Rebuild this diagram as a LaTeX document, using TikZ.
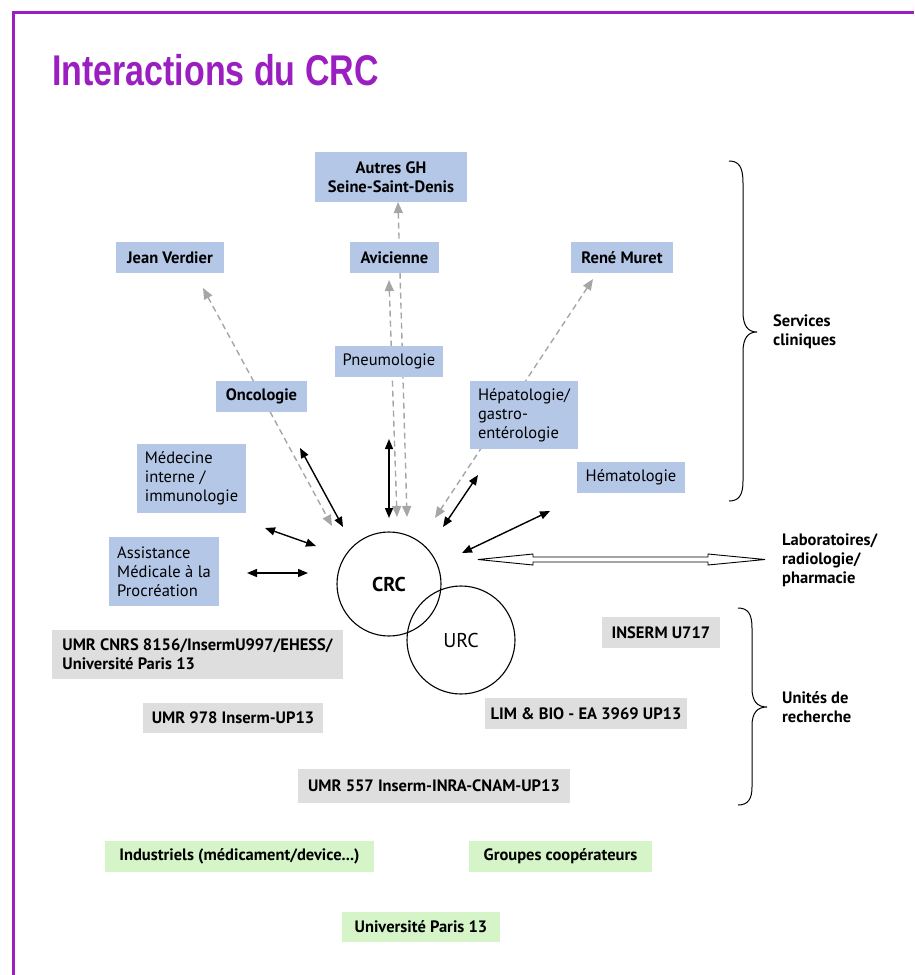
\documentclass[tikz,border=0pt]{standalone}
\usepackage{fontspec}
\setmainfont{PT Sans}
\newfontfamily\titlefont[FakeStretch=0.79]{Liberation Sans}
\usetikzlibrary{arrows.meta}
\definecolor{purp}{HTML}{9B1FC0}
\definecolor{blueF}{HTML}{B4C7E7}
\definecolor{grayF}{HTML}{DEDEDE}
\definecolor{greenF}{HTML}{D5F5C8}
\definecolor{dashG}{HTML}{A6A6A6}
\begin{document}
\begin{tikzpicture}[x=1pt,y=-1pt,
  boxbase/.style={inner sep=0pt, font=\fontsize{16.5}{19}\selectfont},
  bbox/.style={boxbase, fill=blueF},
  gbox/.style={boxbase, fill=grayF, font=\fontsize{16.5}{19}\selectfont\bfseries},
  vbox/.style={boxbase, fill=greenF, font=\fontsize{16.5}{19}\selectfont\bfseries},
  boldtxt/.style={font=\fontsize{16.5}{19}\selectfont\bfseries},
  sidelbl/.style={font=\fontsize{16.5}{19}\selectfont\bfseries, align=left, anchor=west, inner sep=0pt},
  blk/.style={line width=1.4pt, {Triangle[length=10pt,width=8pt]}-{Triangle[length=10pt,width=8pt]}},
  gry/.style={dashG, line width=1.4pt, dash pattern=on 6pt off 4pt, {Triangle[length=11pt,width=9pt]}-{Triangle[length=11pt,width=9pt]}},
  bracestyle/.style={line width=1pt},
  ring/.style={circle, draw, line width=1.1pt, inner sep=0pt}
]
\useasboundingbox (0,0) rectangle (914,975);

% frame
\draw[purp, line width=3pt] (13,975) -- (13,12) -- (914,12);

% title
\node[anchor=base west, inner sep=0pt, text=purp, font=\titlefont\fontsize{43}{48}\selectfont\bfseries] (title) at (52,85) {Interactions du CRC};

% coordinates for the connectors
\coordinate (jvT) at (203,288);
\coordinate (jvB) at (332,526);
\coordinate (avT) at (389,280);
\coordinate (avB) at (397,517);
\coordinate (ghT) at (398,202);
\coordinate (ghB) at (407,517);
\coordinate (rmT) at (593,279);
\coordinate (rmB) at (435,518);

\coordinate (onA) at (300,448);
\coordinate (onB) at (343,527);
\coordinate (pnA) at (389,439);
\coordinate (pnB) at (389,518);
\coordinate (hpA) at (478,475);
\coordinate (hpB) at (443,527);
\coordinate (hmA) at (550,511);
\coordinate (hmB) at (462,553);
\coordinate (miA) at (265,528);
\coordinate (miB) at (316,546);
\coordinate (amA) at (247,573);
\coordinate (amB) at (308,573);

% gray dashed connectors (under the boxes)
\draw[gry] (jvT) -- (jvB);
\draw[gry] (avT) -- (avB);
\draw[gry] (ghT) -- (ghB);
\draw[gry] (rmT) -- (rmB);

% blue boxes
\node[bbox, boldtxt, minimum width=152pt, minimum height=50pt, align=center] (autres) at (391,177) {Autres GH\\Seine-Saint-Denis};
\node[bbox, boldtxt, minimum width=108pt, minimum height=31pt] (jean) at (170,257.5) {Jean Verdier};
\node[bbox, boldtxt, minimum width=89pt, minimum height=31pt] (avic) at (394.5,257.5) {Avicienne};
\node[bbox, boldtxt, minimum width=102pt, minimum height=31pt] (rene) at (622,257.5) {René Muret};
\node[bbox, minimum width=108pt, minimum height=31pt] (pneumo) at (389,361.5) {Pneumologie};
\node[bbox, boldtxt, minimum width=91pt, minimum height=31pt] (onco) at (261.5,396.5) {Oncologie};
\node[bbox, minimum width=108pt, minimum height=68pt, align=left] (hepato) at (524,415) {Hépatologie/\\gastro-\\entérologie};
\node[bbox, minimum width=108pt, minimum height=31pt] (hemato) at (631,477.5) {Hématologie};
\node[bbox, minimum width=109pt, minimum height=69pt, align=left] (medecine) at (191.5,478.5) {Médecine\\interne /\\immunologie};
\node[bbox, minimum width=110pt, minimum height=69pt, align=left] (assist) at (164,571.5) {Assistance\\Médicale à la\\Procréation};

% black connectors
\draw[blk] (onA) -- (onB);
\draw[blk] (pnA) -- (pnB);
\draw[blk] (hpA) -- (hpB);
\draw[blk] (hmA) -- (hmB);
\draw[blk] (miA) -- (miB);
\draw[blk] (amA) -- (amB);

% circles
\node[ring, minimum size=104pt, font=\fontsize{20}{22}\selectfont\bfseries] (crc) at (389,584) {CRC};
\node[ring, minimum size=108pt] (urc) at (461,640) {};
\node[font=\fontsize{20}{22}\selectfont, inner sep=0pt] (urclbl) at (461,640) {URC};

% hollow double arrow
\coordinate (laL) at (478,559.5);
\coordinate (laR) at (765,559.5);
\draw[line width=0.9pt, fill=white] (laL) -- (533,554) -- (533,557) -- (708,557) -- (708,554) -- (laR) -- (708,565) -- (708,562) -- (533,562) -- (533,565) -- cycle;
\node[sidelbl] (labo) at (782,560) {Laboratoires/\\radiologie/\\pharmacie};

% gray boxes
\node[gbox, minimum width=291pt, minimum height=49pt, align=left] (umrcnrs) at (197.5,654.5) {UMR CNRS 8156/InsermU997/EHESS/\\Université Paris 13};
\node[gbox, minimum width=180pt, minimum height=30pt] (umr978) at (233,718) {UMR 978 Inserm-UP13};
\node[gbox, minimum width=272pt, minimum height=34pt] (umr557) at (434,786) {UMR 557 Inserm-INRA-CNAM-UP13};
\node[gbox, minimum width=118pt, minimum height=31pt] (inserm) at (661,632.5) {INSERM U717};
\node[gbox, minimum width=202pt, minimum height=31pt] (limbio) at (586,713.5) {LIM \& BIO - EA 3969 UP13};

% green boxes
\node[vbox, minimum width=269pt, minimum height=31pt] (indus) at (239.5,856.5) {Industriels (médicament/device...)};
\node[vbox, minimum width=183pt, minimum height=31pt] (groupes) at (560.5,856.5) {Groupes coopérateurs};
\node[vbox, minimum width=158pt, minimum height=30pt] (univ) at (421,927) {Université Paris 13};

% braces
\draw[bracestyle] (729,161) .. controls (739,161) and (743,167) .. (743,183) -- (743,312) .. controls (743,326) and (748,332) .. (757,332) .. controls (748,332) and (743,338) .. (743,352) -- (743,481) .. controls (743,495) and (739,501) .. (729,501);
\node[sidelbl] (services) at (773,332) {Services\\cliniques};

\draw[bracestyle] (738,608) .. controls (748,608) and (752,614) .. (752,628) -- (752,688) .. controls (752,701) and (757,707) .. (767,707) .. controls (757,707) and (752,713) .. (752,726) -- (752,787) .. controls (752,799) and (748,805) .. (738,805);
\node[sidelbl] (unites) at (782,707) {Unités de\\recherche};
\end{tikzpicture}
\end{document}
